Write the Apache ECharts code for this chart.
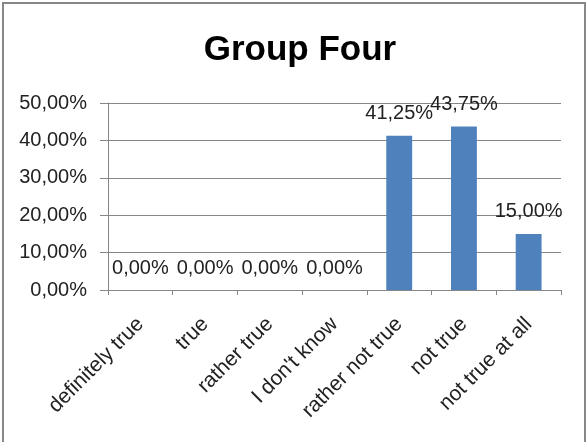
<!DOCTYPE html>
<html><head><meta charset="utf-8">
<script src="https://cdn.jsdelivr.net/npm/echarts@6/dist/echarts.min.js"></script>
<style>html,body{margin:0;padding:0;background:#fff}#c{width:588px;height:442px}</style>
</head><body><div id="c"></div>
<script>
const title = "Group Four";
const categories = ["definitely true","true","rather true","I don't know","rather not true","not true","not true at all"];
const values = [0, 0, 0, 0, 41.25, 43.75, 15.00];
const yTicks = [0, 10, 20, 30, 40, 50];

const fmt = v => v.toFixed(2).replace('.', ',') + '%';
const FONT = 'Liberation Sans';
const chart = echarts.init(document.getElementById('c'), null, {renderer: 'canvas'});
chart.setOption({
  animation: false,
  backgroundColor: '#fff',
  title: {text: title, left: 295, top: 28, textAlign: 'center',
    textStyle: {fontFamily: FONT, fontWeight: 'bold', fontSize: 35, color: '#000'}},
  graphic: [{type: 'rect', shape: {x: 3, y: 3, width: 582, height: 460},
    style: {fill: 'none', stroke: '#878787', lineWidth: 2}, silent: true}],
  grid: {left: 108, right: 27, top: 103, bottom: 152, containLabel: false},
  xAxis: {type: 'category', data: categories,
    axisLine: {lineStyle: {color: '#868686', width: 1}},
    axisTick: {show: true, length: 5, lineStyle: {color: '#868686'}},
    axisLabel: {rotate: 45, interval: 0, margin: 31, fontFamily: FONT, fontSize: 21, color: '#222'}},
  yAxis: {type: 'value', min: yTicks[0], max: yTicks[yTicks.length-1], interval: 10,
    axisLine: {show: true, lineStyle: {color: '#868686', width: 1}},
    axisTick: {show: true, length: 8, inside: false, lineStyle: {color: '#868686'}},
    splitLine: {show: true, lineStyle: {color: '#868686', width: 1}},
    axisLabel: {formatter: v => fmt(v), fontFamily: FONT, fontSize: 20, color: '#222', margin: 21}},
  series: [{type: 'bar', data: values, barWidth: '40%',
    itemStyle: {color: '#4F81BD'},
    label: {show: true, position: 'top', distance: 12, formatter: p => fmt(p.value),
      fontFamily: FONT, fontSize: 20, color: '#222'}}]
});
</script></body></html>
